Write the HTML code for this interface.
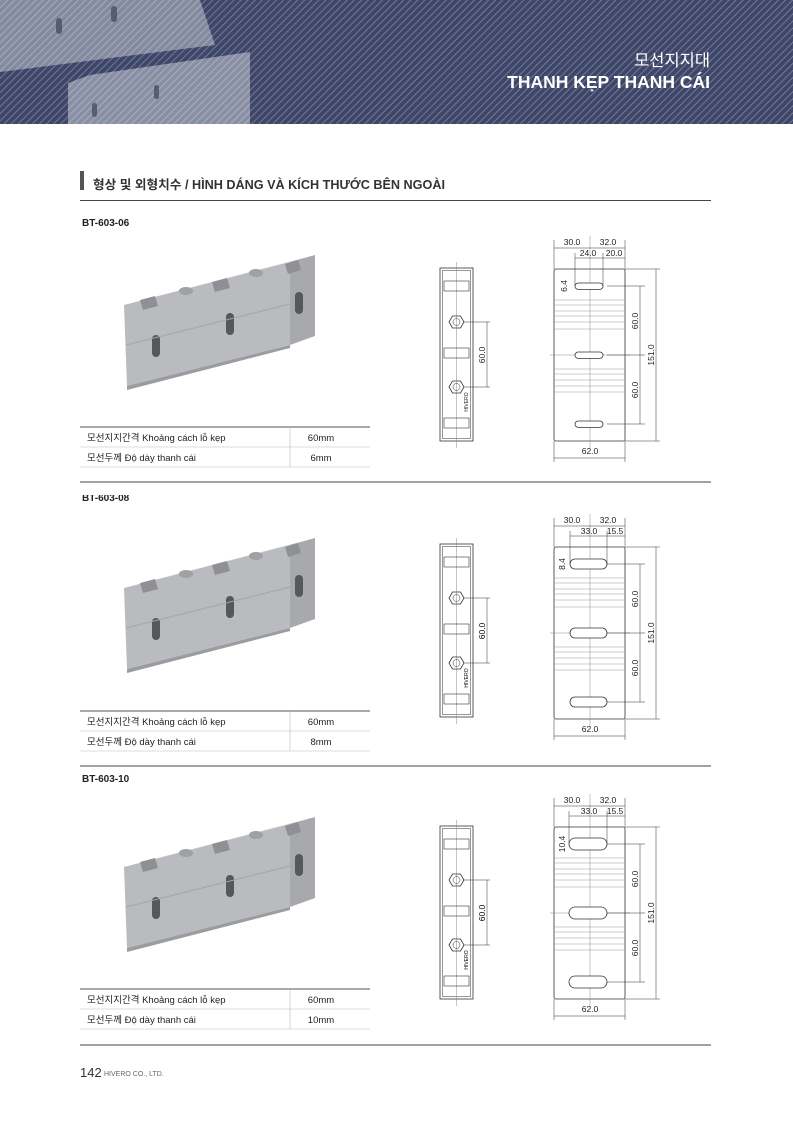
<!DOCTYPE html>
<html><head><meta charset="utf-8"><style>
html,body{margin:0;padding:0;background:#fff}
body{width:793px;height:1122px;position:relative;overflow:hidden;font-family:"Liberation Sans","Noto Sans CJK KR",sans-serif}
#hdr{position:absolute;left:0;top:0;width:793px;height:124px;background:#3e4669}
svg{position:absolute;left:0;top:0}
</style></head><body>
<div id="hdr"></div>
<svg width="793" height="1122" viewBox="0 0 793 1122" font-family="Liberation Sans, Noto Sans CJK KR, sans-serif">
<defs>
<pattern id="stripes" width="5" height="5" patternUnits="userSpaceOnUse" patternTransform="rotate(45)">
<rect x="0" y="0" width="1" height="5" fill="rgba(255,255,255,0.28)"/>
</pattern>
<g id="prod">
<polygon points="124,305 150,298 315,255 290,262" fill="#d3d5d8"/>
<polygon points="124,305 290,262 290,345 127,386" fill="#b9bbbf"/>
<polygon points="290,262 315,255 315,336 290,345" fill="#a7a9ad"/>
<polygon points="127,386 290,345 290,348 127,390" fill="#9a9ca0"/>
<polygon points="140,300 155,296 158,306 143,310" fill="#8e9094"/>
<polygon points="212,282 227,278 230,288 215,292" fill="#8e9094"/>
<polygon points="285,264 298,260 301,270 288,274" fill="#8e9094"/>
<ellipse cx="186" cy="291" rx="7" ry="4" fill="#9fa1a5"/>
<ellipse cx="256" cy="273" rx="7" ry="4" fill="#9fa1a5"/>
<rect x="152" y="335" width="8" height="22" rx="4" fill="#55575b"/>
<rect x="226" y="313" width="8" height="22" rx="4" fill="#55575b"/>
<rect x="295" y="292" width="8" height="22" rx="4" fill="#55575b"/>
<line x1="126" y1="345" x2="290" y2="304" stroke="#a3a5a9" stroke-width="1"/>
</g>
<g id="side" fill="none" stroke="#333" stroke-width="0.8">
<rect x="440" y="268" width="33" height="173"/>
<rect x="442.5" y="270.5" width="28" height="168" stroke-width="0.5"/>
<line x1="456.5" y1="262" x2="456.5" y2="448" stroke="#888" stroke-width="0.5"/>
<rect x="444" y="281" width="25" height="10" stroke-width="0.6"/>
<rect x="444" y="348" width="25" height="10" stroke-width="0.6"/>
<rect x="444" y="418" width="25" height="10" stroke-width="0.6"/>
<polygon points="449,322 452.5,316 460.5,316 464,322 460.5,328 452.5,328"/>
<circle cx="456.5" cy="322" r="3.5" stroke-width="0.5"/>
<polygon points="449,387 452.5,381 460.5,381 464,387 460.5,393 452.5,393"/>
<circle cx="456.5" cy="387" r="3.5" stroke-width="0.5"/>
<line x1="464" y1="322" x2="490" y2="322" stroke-width="0.5"/>
<line x1="464" y1="387" x2="490" y2="387" stroke-width="0.5"/>
<line x1="487" y1="322" x2="487" y2="387" stroke-width="0.5"/>
</g>
<g id="front" fill="none" stroke="#333" stroke-width="0.8">
<rect x="554" y="269" width="71" height="172" rx="2"/>
<line x1="590" y1="236" x2="590" y2="448" stroke="#888" stroke-width="0.5"/>
<line x1="550" y1="355" x2="630" y2="355" stroke="#888" stroke-width="0.5"/>
<g stroke="#999" stroke-width="0.5">
<line x1="554" y1="300" x2="625" y2="300"/><line x1="554" y1="305" x2="625" y2="305"/>
<line x1="554" y1="311" x2="625" y2="311"/><line x1="554" y1="316" x2="625" y2="316"/>
<line x1="554" y1="322" x2="625" y2="322"/><line x1="554" y1="329" x2="625" y2="329"/>
<line x1="554" y1="369" x2="625" y2="369"/><line x1="554" y1="374" x2="625" y2="374"/>
<line x1="554" y1="380" x2="625" y2="380"/><line x1="554" y1="386" x2="625" y2="386"/>
<line x1="554" y1="392" x2="625" y2="392"/>
</g>
<g stroke-width="0.5">
<line x1="554" y1="240" x2="554" y2="269"/><line x1="625" y1="240" x2="625" y2="269"/>
<line x1="554" y1="248" x2="625" y2="248"/>
<line x1="554" y1="441" x2="554" y2="462"/><line x1="625" y1="441" x2="625" y2="462"/>
<line x1="554" y1="458" x2="625" y2="458"/>
<line x1="607" y1="286" x2="645" y2="286"/><line x1="607" y1="355" x2="645" y2="355"/>
<line x1="607" y1="424" x2="645" y2="424"/>
<line x1="640" y1="286" x2="640" y2="424"/>
<line x1="625" y1="269" x2="660" y2="269"/><line x1="625" y1="441" x2="660" y2="441"/>
<line x1="656" y1="269" x2="656" y2="441"/>
</g>
</g>
</defs>

<!-- header decoration -->
<polygon points="0,0 200,0 215,45 0,72" fill="#9ca1b3" opacity="0.75"/>
<polygon points="68,83 90,75 250,52 250,124 68,124" fill="#9ca1b3" opacity="0.8"/>
<rect x="0" y="0" width="793" height="124" fill="url(#stripes)"/>
<rect x="56" y="18" width="6" height="16" rx="3" fill="#4a4f62" opacity="0.8"/>
<rect x="111" y="6" width="6" height="16" rx="3" fill="#4a4f62" opacity="0.8"/>
<rect x="92" y="103" width="5" height="14" rx="2.5" fill="#4a4f62" opacity="0.8"/>
<rect x="154" y="85" width="5" height="14" rx="2.5" fill="#4a4f62" opacity="0.8"/>
<text x="710" y="66" fill="#fff" font-size="16.5" text-anchor="end">모선지지대</text>
<text x="710" y="88" fill="#fff" font-size="17.5" font-weight="bold" text-anchor="end">THANH KẸP THANH CÁI</text>

<rect x="80" y="171" width="4" height="19" fill="#555"/>
<text x="93" y="189" font-size="12.5" font-weight="bold" fill="#333" textLength="352" lengthAdjust="spacingAndGlyphs">형상 및 외형치수 / HÌNH DÁNG VÀ KÍCH THƯỚC BÊN NGOÀI</text>
<line x1="80" y1="200.5" x2="711" y2="200.5" stroke="#444" stroke-width="1"/>

<!-- Section 1 -->
<text x="82" y="226" font-size="10" font-weight="bold" fill="#222">BT-603-06</text>
<use href="#prod"/>
<use href="#side"/>
<use href="#front"/>
<g fill="#fff" stroke="#333" stroke-width="0.8">
<rect x="575" y="283" width="28" height="6.4" rx="3.2"/><rect x="575" y="352" width="28" height="6.4" rx="3.2"/><rect x="575" y="421" width="28" height="6.4" rx="3.2"/>
</g>
<g stroke="#333" stroke-width="0.5"><line x1="575" y1="253" x2="575" y2="286"/><line x1="575" y1="258" x2="625" y2="258"/><line x1="603" y1="253" x2="603" y2="286"/></g>
<g font-size="8.5" fill="#222" text-anchor="middle">
<text x="572" y="245">30.0</text><text x="608" y="245">32.0</text>
<text x="588" y="256">24.0</text><text x="614" y="256">20.0</text>
<text transform="translate(567,286) rotate(-90)">6.4</text>
<text transform="translate(638,321) rotate(-90)">60.0</text>
<text transform="translate(638,390) rotate(-90)">60.0</text>
<text transform="translate(654,355) rotate(-90)">151.0</text>
<text x="590" y="454">62.0</text>
<text transform="translate(485,355) rotate(-90)">60.0</text>
<text transform="translate(468,402) rotate(-90)" font-size="5">HIVERO</text>
</g>
<line x1="80" y1="427" x2="370" y2="427" stroke="#555" stroke-width="1"/>
<line x1="80" y1="447" x2="370" y2="447" stroke="#bbb" stroke-width="0.6"/>
<line x1="80" y1="467" x2="370" y2="467" stroke="#bbb" stroke-width="0.6"/>
<line x1="290" y1="427" x2="290" y2="467" stroke="#bbb" stroke-width="0.6"/>
<g font-size="9.5" fill="#222"><text x="87" y="441">모선지지간격  Khoảng cách lỗ kẹp</text><text x="87" y="461">모선두께  Độ dày thanh cái</text>
<text x="321" y="441" text-anchor="middle">60mm</text><text x="321" y="461" text-anchor="middle">6mm</text></g>
<line x1="80" y1="482" x2="711" y2="482" stroke="#444" stroke-width="1"/>

<!-- Section 2 -->
<text x="82" y="501" font-size="10" font-weight="bold" fill="#222">BT-603-08</text>
<rect x="80" y="483" width="100" height="12" fill="#fff"/>
<g transform="translate(0,283)"><use href="#prod"/></g>
<g transform="translate(0,276)"><use href="#side"/>
<text transform="translate(485,355) rotate(-90)" font-size="8.5" text-anchor="middle">60.0</text>
<text transform="translate(468,402) rotate(-90)" font-size="5" text-anchor="middle">HIVERO</text></g>
<g transform="translate(0,278)"><use href="#front"/>
<g fill="#fff" stroke="#333" stroke-width="0.8">
<rect x="570" y="281" width="37" height="10" rx="5"/><rect x="570" y="350" width="37" height="10" rx="5"/><rect x="570" y="419" width="37" height="10" rx="5"/>
</g>
<g stroke="#333" stroke-width="0.5"><line x1="570" y1="253" x2="570" y2="286"/><line x1="570" y1="258" x2="625" y2="258"/><line x1="607" y1="253" x2="607" y2="286"/></g>
<g font-size="8.5" fill="#222" text-anchor="middle">
<text x="572" y="245">30.0</text><text x="608" y="245">32.0</text>
<text x="589" y="256">33.0</text><text x="615" y="256">15.5</text>
<text transform="translate(565,286) rotate(-90)">8.4</text>
<text transform="translate(638,321) rotate(-90)">60.0</text>
<text transform="translate(638,390) rotate(-90)">60.0</text>
<text transform="translate(654,355) rotate(-90)">151.0</text>
<text x="590" y="454">62.0</text></g></g>
<g transform="translate(0,284)">
<line x1="80" y1="427" x2="370" y2="427" stroke="#555" stroke-width="1"/>
<line x1="80" y1="447" x2="370" y2="447" stroke="#bbb" stroke-width="0.6"/>
<line x1="80" y1="467" x2="370" y2="467" stroke="#bbb" stroke-width="0.6"/>
<line x1="290" y1="427" x2="290" y2="467" stroke="#bbb" stroke-width="0.6"/>
<g font-size="9.5" fill="#222"><text x="87" y="441">모선지지간격  Khoảng cách lỗ kẹp</text><text x="87" y="461">모선두께  Độ dày thanh cái</text>
<text x="321" y="441" text-anchor="middle">60mm</text><text x="321" y="461" text-anchor="middle">8mm</text></g></g>
<line x1="80" y1="766" x2="711" y2="766" stroke="#444" stroke-width="1"/>

<!-- Section 3 -->
<text x="82" y="782" font-size="10" font-weight="bold" fill="#222">BT-603-10</text>
<g transform="translate(0,562)"><use href="#prod"/></g>
<g transform="translate(0,558)"><use href="#side"/>
<text transform="translate(485,355) rotate(-90)" font-size="8.5" text-anchor="middle">60.0</text>
<text transform="translate(468,402) rotate(-90)" font-size="5" text-anchor="middle">HIVERO</text></g>
<g transform="translate(0,558)"><use href="#front"/>
<g fill="#fff" stroke="#333" stroke-width="0.8">
<rect x="569" y="280" width="38" height="12" rx="6"/><rect x="569" y="349" width="38" height="12" rx="6"/><rect x="569" y="418" width="38" height="12" rx="6"/>
</g>
<g stroke="#333" stroke-width="0.5"><line x1="569" y1="253" x2="569" y2="286"/><line x1="569" y1="258" x2="625" y2="258"/><line x1="607" y1="253" x2="607" y2="286"/></g>
<g font-size="8.5" fill="#222" text-anchor="middle">
<text x="572" y="245">30.0</text><text x="608" y="245">32.0</text>
<text x="589" y="256">33.0</text><text x="615" y="256">15.5</text>
<text transform="translate(565,286) rotate(-90)">10.4</text>
<text transform="translate(638,321) rotate(-90)">60.0</text>
<text transform="translate(638,390) rotate(-90)">60.0</text>
<text transform="translate(654,355) rotate(-90)">151.0</text>
<text x="590" y="454">62.0</text></g></g>
<g transform="translate(0,562)">
<line x1="80" y1="427" x2="370" y2="427" stroke="#555" stroke-width="1"/>
<line x1="80" y1="447" x2="370" y2="447" stroke="#bbb" stroke-width="0.6"/>
<line x1="80" y1="467" x2="370" y2="467" stroke="#bbb" stroke-width="0.6"/>
<line x1="290" y1="427" x2="290" y2="467" stroke="#bbb" stroke-width="0.6"/>
<g font-size="9.5" fill="#222"><text x="87" y="441">모선지지간격  Khoảng cách lỗ kẹp</text><text x="87" y="461">모선두께  Độ dày thanh cái</text>
<text x="321" y="441" text-anchor="middle">60mm</text><text x="321" y="461" text-anchor="middle">10mm</text></g></g>
<line x1="80" y1="1045" x2="711" y2="1045" stroke="#444" stroke-width="1"/>

<text x="80" y="1077" font-size="13" fill="#333">142</text>
<text x="104" y="1076" font-size="7" fill="#666">HIVERO CO., LTD.</text>
</svg>
</body></html>
